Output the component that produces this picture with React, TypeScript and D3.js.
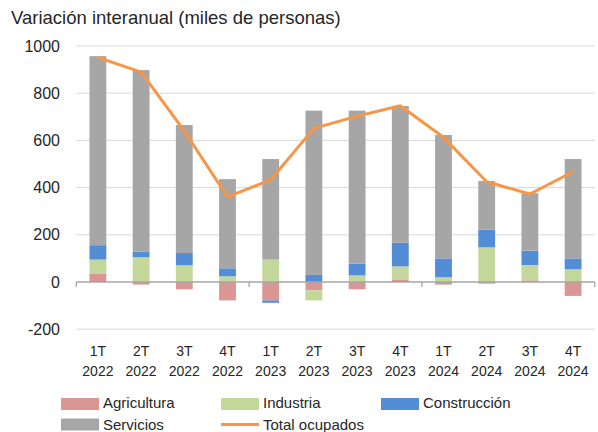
import React from "react";
import * as d3 from "d3";

const categories = ["1T|2022", "2T|2022", "3T|2022", "4T|2022", "1T|2023", "2T|2023", "3T|2023", "4T|2023", "1T|2024", "2T|2024", "3T|2024", "4T|2024"];
const agricultura = [34, -11, -31, -78, -78, -35, -31, 11, -11, -7, 7, -59];
const industria = [61, 105, 71, 24, 95, -43, 28, 55, 20, 147, 65, 54];
const construccion = [61, 24, 52, 34, -10, 30, 50, 100, 80, 75, 61, 46];
const servicios = [801, 769, 542, 378, 426, 696, 648, 580, 523, 206, 243, 421];
const totalOcupados = [952, 889, 640, 361, 433, 651, 703, 747, 613, 425, 373, 467];
const yTicks = [-200, 0, 200, 400, 600, 800, 1000];

const seriesDefs = [
  { name: "Agricultura", values: agricultura, color: "#DA9694" },
  { name: "Industria", values: industria, color: "#C4D79B" },
  { name: "Construcción", values: construccion, color: "#538DD5" },
  { name: "Servicios", values: servicios, color: "#A6A6A6" },
];
const lineColor = "#F79646";
const font = "'Liberation Sans', Arial, sans-serif";

export default function App() {
  const W = 598, H = 432;
  const x = d3.scaleBand<string>().domain(categories).range([76.3, 594.7]).padding(0);
  const y = d3.scaleLinear().domain([-200, 1000]).range([329.2, 46]);
  const barW = x.bandwidth() * 0.39;

  // stacking (Excel style: positives up, negatives down)
  const rects: { x: number; y: number; w: number; h: number; c: string; k: string }[] = [];
  categories.forEach((cat, i) => {
    let pos = 0, neg = 0;
    seriesDefs.forEach((s) => {
      const v = s.values[i];
      let y0, y1;
      if (v >= 0) { y0 = pos; y1 = pos + v; pos = y1; }
      else { y0 = neg; y1 = neg + v; neg = y1; }
      const top = y(Math.max(y0, y1));
      const bot = y(Math.min(y0, y1));
      rects.push({ x: (x(cat) as number) + (x.bandwidth() - barW) / 2, y: top, w: barW, h: bot - top, c: s.color, k: s.name + i });
    });
  });

  const line = d3.line<number>()
    .x((_, i) => (x(categories[i]) as number) + x.bandwidth() / 2)
    .y((d) => y(d));

  const yearBoundaries = [0, 4, 8, 12].map((i) => i < 12 ? (x(categories[i]) as number) : x.range()[1]);
  const [xl, xr] = x.range();

  const legendRow1 = [
    { name: "Agricultura", color: seriesDefs[0].color, sx: 61, tx: 103 },
    { name: "Industria", color: seriesDefs[1].color, sx: 221, tx: 263 },
    { name: "Construcción", color: seriesDefs[2].color, sx: 381, tx: 423 },
  ];

  return (
    <svg width={W} height={H} style={{ position: "absolute", left: 0, top: 0, background: "#fff" }} fontFamily={font}>
      <rect x={0} y={0} width={W} height={H} fill="#fff" />
      <text x={11} y={24} fontSize={18.5} fill="#262626">Variación interanual (miles de personas)</text>
      {yTicks.filter((t) => t !== 0).map((t) => (
        <line key={t} x1={xl} x2={xr} y1={y(t)} y2={y(t)} stroke="#D9D9D9" strokeWidth={1} />
      ))}
      {yTicks.map((t) => (
        <text key={"l" + t} x={60} y={y(t) + 5.5} fontSize={16} textAnchor="end" fill="#262626">{t}</text>
      ))}
      {rects.map((r) => (
        <rect key={r.k} x={r.x} y={r.y} width={r.w} height={r.h} fill={r.c} />
      ))}
      <line x1={xl} x2={xr} y1={y(0)} y2={y(0)} stroke="#A6A6A6" strokeWidth={1.3} />
      {yearBoundaries.map((bx, i) => (
        <line key={"t" + i} x1={bx} x2={bx} y1={y(0)} y2={y(0) + 5} stroke="#A6A6A6" strokeWidth={1.3} />
      ))}
      <path d={line(totalOcupados) || ""} fill="none" stroke={lineColor} strokeWidth={3} strokeLinejoin="round" />
      {categories.map((c) => {
        const [q, yr] = c.split("|");
        const cx = (x(c) as number) + x.bandwidth() / 2;
        return (
          <g key={"x" + c}>
            <text x={cx} y={355.5} fontSize={14} textAnchor="middle" fill="#262626">{q}</text>
            <text x={cx} y={376} fontSize={14} textAnchor="middle" fill="#262626">{yr}</text>
          </g>
        );
      })}
      {legendRow1.map((l) => (
        <g key={l.name}>
          <rect x={l.sx} y={398} width={38} height={12} fill={l.color} />
          <text x={l.tx} y={408} fontSize={15} fill="#262626">{l.name}</text>
        </g>
      ))}
      <rect x={61} y={418.5} width={38} height={12} fill={seriesDefs[3].color} />
      <text x={103} y={429.5} fontSize={15} fill="#262626">Servicios</text>
      <line x1={221} x2={259} y1={424.5} y2={424.5} stroke={lineColor} strokeWidth={3} />
      <text x={263} y={429.5} fontSize={15} fill="#262626">Total ocupados</text>
    </svg>
  );
}
